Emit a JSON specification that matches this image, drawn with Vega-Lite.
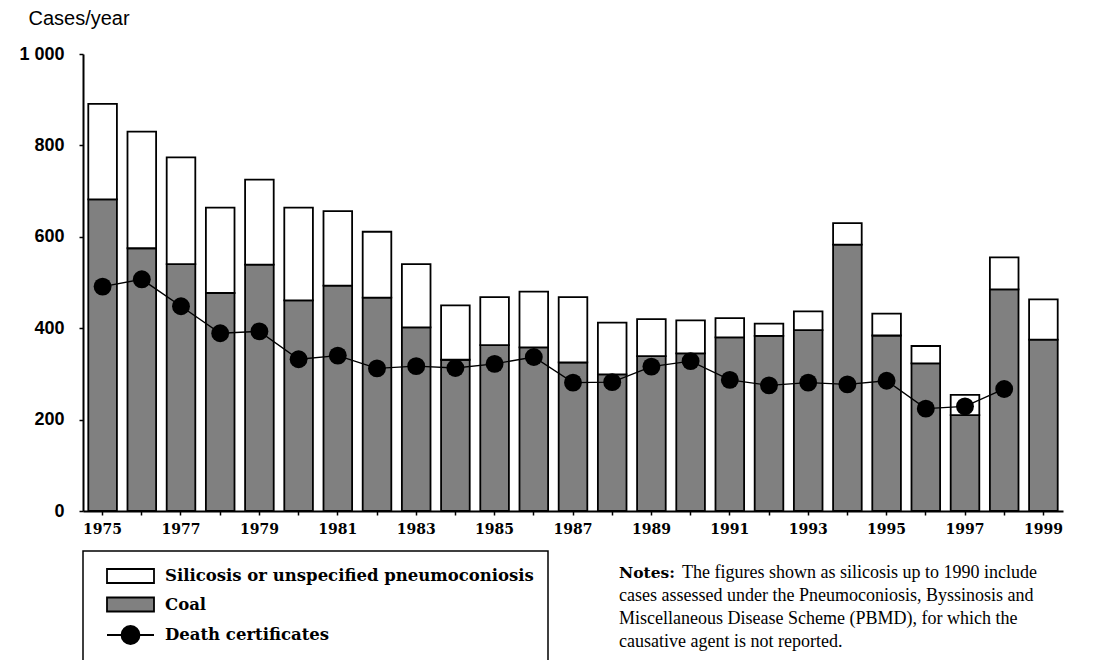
{
  "$schema": "https://vega.github.io/schema/vega-lite/v6.json",
  "autosize": {"type": "none"},
  "padding": {"left": 83, "top": 54, "right": 41, "bottom": 149},
  "width": 980,
  "height": 457,
  "background": "white",
  "config": {
    "view": {"stroke": null},
    "legend": {"strokeWidth": 1.5},
    "title": {"subtitleFont": "Liberation Serif"}
  },
  "datasets": {
    "cases": [
      {"year": 1975, "series": "Coal", "cases": 682}, {"year": 1975, "series": "Silicosis or unspecified pneumoconiosis", "cases": 209},
      {"year": 1976, "series": "Coal", "cases": 575}, {"year": 1976, "series": "Silicosis or unspecified pneumoconiosis", "cases": 255},
      {"year": 1977, "series": "Coal", "cases": 540}, {"year": 1977, "series": "Silicosis or unspecified pneumoconiosis", "cases": 234},
      {"year": 1978, "series": "Coal", "cases": 477}, {"year": 1978, "series": "Silicosis or unspecified pneumoconiosis", "cases": 187},
      {"year": 1979, "series": "Coal", "cases": 539}, {"year": 1979, "series": "Silicosis or unspecified pneumoconiosis", "cases": 186},
      {"year": 1980, "series": "Coal", "cases": 461}, {"year": 1980, "series": "Silicosis or unspecified pneumoconiosis", "cases": 203},
      {"year": 1981, "series": "Coal", "cases": 493}, {"year": 1981, "series": "Silicosis or unspecified pneumoconiosis", "cases": 163},
      {"year": 1982, "series": "Coal", "cases": 467}, {"year": 1982, "series": "Silicosis or unspecified pneumoconiosis", "cases": 144},
      {"year": 1983, "series": "Coal", "cases": 402}, {"year": 1983, "series": "Silicosis or unspecified pneumoconiosis", "cases": 138},
      {"year": 1984, "series": "Coal", "cases": 331}, {"year": 1984, "series": "Silicosis or unspecified pneumoconiosis", "cases": 119},
      {"year": 1985, "series": "Coal", "cases": 363}, {"year": 1985, "series": "Silicosis or unspecified pneumoconiosis", "cases": 105},
      {"year": 1986, "series": "Coal", "cases": 358}, {"year": 1986, "series": "Silicosis or unspecified pneumoconiosis", "cases": 122},
      {"year": 1987, "series": "Coal", "cases": 325}, {"year": 1987, "series": "Silicosis or unspecified pneumoconiosis", "cases": 143},
      {"year": 1988, "series": "Coal", "cases": 299}, {"year": 1988, "series": "Silicosis or unspecified pneumoconiosis", "cases": 113},
      {"year": 1989, "series": "Coal", "cases": 339}, {"year": 1989, "series": "Silicosis or unspecified pneumoconiosis", "cases": 81},
      {"year": 1990, "series": "Coal", "cases": 345}, {"year": 1990, "series": "Silicosis or unspecified pneumoconiosis", "cases": 72},
      {"year": 1991, "series": "Coal", "cases": 380}, {"year": 1991, "series": "Silicosis or unspecified pneumoconiosis", "cases": 42},
      {"year": 1992, "series": "Coal", "cases": 383}, {"year": 1992, "series": "Silicosis or unspecified pneumoconiosis", "cases": 27},
      {"year": 1993, "series": "Coal", "cases": 396}, {"year": 1993, "series": "Silicosis or unspecified pneumoconiosis", "cases": 41},
      {"year": 1994, "series": "Coal", "cases": 583}, {"year": 1994, "series": "Silicosis or unspecified pneumoconiosis", "cases": 47},
      {"year": 1995, "series": "Coal", "cases": 384}, {"year": 1995, "series": "Silicosis or unspecified pneumoconiosis", "cases": 48},
      {"year": 1996, "series": "Coal", "cases": 323}, {"year": 1996, "series": "Silicosis or unspecified pneumoconiosis", "cases": 38},
      {"year": 1997, "series": "Coal", "cases": 210}, {"year": 1997, "series": "Silicosis or unspecified pneumoconiosis", "cases": 44},
      {"year": 1998, "series": "Coal", "cases": 485}, {"year": 1998, "series": "Silicosis or unspecified pneumoconiosis", "cases": 70},
      {"year": 1999, "series": "Coal", "cases": 375}, {"year": 1999, "series": "Silicosis or unspecified pneumoconiosis", "cases": 88}
    ],
    "deaths": [
      {"year": 1975, "deaths": 491}, {"year": 1976, "deaths": 507}, {"year": 1977, "deaths": 448},
      {"year": 1978, "deaths": 389}, {"year": 1979, "deaths": 393}, {"year": 1980, "deaths": 332},
      {"year": 1981, "deaths": 340}, {"year": 1982, "deaths": 312}, {"year": 1983, "deaths": 317},
      {"year": 1984, "deaths": 313}, {"year": 1985, "deaths": 322}, {"year": 1986, "deaths": 337},
      {"year": 1987, "deaths": 281}, {"year": 1988, "deaths": 282}, {"year": 1989, "deaths": 316},
      {"year": 1990, "deaths": 328}, {"year": 1991, "deaths": 287}, {"year": 1992, "deaths": 275},
      {"year": 1993, "deaths": 281}, {"year": 1994, "deaths": 277}, {"year": 1995, "deaths": 285},
      {"year": 1996, "deaths": 224}, {"year": 1997, "deaths": 229}, {"year": 1998, "deaths": 267}
    ]
  },
  "title": {
    "text": "Notes:",
    "subtitle": [
      "\u200b\u00a0\u00a0\u00a0\u00a0\u00a0\u00a0\u00a0\u00a0\u00a0\u00a0\u00a0\u00a0\u00a0\u00a0The figures shown as silicosis up to 1990 include",
      "cases assessed under the Pneumoconiosis, Byssinosis and",
      "Miscellaneous Disease Scheme (PBMD), for which the",
      "causative agent is not reported."
    ],
    "orient": "bottom",
    "anchor": "start",
    "frame": "group",
    "dx": 536,
    "dy": -107,
    "offset": 10,
    "font": "DejaVu Serif",
    "fontSize": 15.5,
    "fontWeight": "bold",
    "color": "black",
    "subtitleFont": "Liberation Serif",
    "subtitleFontSize": 18,
    "subtitleFontWeight": "normal",
    "subtitleColor": "black",
    "subtitleLineHeight": 23,
    "subtitlePadding": -17.5
  },
  "layer": [
    {
      "data": {"name": "cases"},
      "mark": {"type": "bar", "stroke": "black", "strokeWidth": 1.8},
      "encoding": {
        "x": {
          "field": "year", "type": "ordinal",
          "scale": {"paddingInner": 0.27},
          "axis": {
            "title": null, "labelAngle": 0,
            "labelExpr": "datum.value % 2 == 1 ? datum.label : ''",
            "domainColor": "black", "domainWidth": 2,
            "tickColor": "black", "tickSize": 4, "tickWidth": 1.5,
            "labelFont": "DejaVu Serif", "labelFontWeight": "bold", "labelFontSize": 14,
            "labelColor": "black", "labelPadding": 7
          }
        },
        "y": {
          "field": "cases", "type": "quantitative", "stack": "zero",
          "title": "Cases/year",
          "scale": {"domain": [0, 1000], "nice": false},
          "axis": {
            "values": [0, 200, 400, 600, 800, 1000],
            "format": ",d",
            "labelExpr": "replace(datum.label, ',', ' ')",
            "grid": false,
            "domainColor": "black", "domainWidth": 2,
            "tickColor": "black", "tickSize": 4, "tickWidth": 1.5,
            "labelFont": "Liberation Sans", "labelFontWeight": "bold", "labelFontSize": 18,
            "labelColor": "black", "labelPadding": 15,
            "titleAngle": 0, "titleAlign": "left", "titleBaseline": "alphabetic",
            "titleX": -55, "titleY": -30,
            "titleFont": "Liberation Sans", "titleFontSize": 20, "titleFontWeight": "normal",
            "titleColor": "black"
          }
        },
        "order": {"field": "series", "type": "nominal", "sort": "ascending"},
        "fill": {
          "field": "series", "type": "nominal",
          "scale": {
            "domain": ["Silicosis or unspecified pneumoconiosis", "Coal", "Death certificates"],
            "range": ["white", "#808080", "black"]
          },
          "legend": {
            "title": null, "orient": "none", "legendX": 0, "legendY": 497,
            "direction": "vertical", "padding": 14,
            "strokeColor": "black", "fillColor": "white",
            "rowPadding": 6.5,
            "labelFont": "DejaVu Serif", "labelFontWeight": "bold", "labelFontSize": 16.5,
            "labelColor": "black", "labelLimit": 900, "labelOffset": 23.5,
            "symbolSize": 400, "symbolStrokeColor": "black", "symbolStrokeWidth": 1.8,
            "symbolOffset": 22.5,
            "encode": {
              "symbols": {
                "update": {
                  "shape": {"signal": "datum.value === 'Death certificates' ? 'M-2.35,0H-0.9M0.9,0H2.35M-0.9,0A0.9,0.9,0,1,0,0.9,0A0.9,0.9,0,1,0,-0.9,0Z' : 'M-2.35,-0.7H2.35V0.7H-2.35Z'"}
                }
              }
            }
          }
        }
      }
    },
    {
      "data": {"name": "deaths"},
      "mark": {"type": "line", "color": "black", "strokeWidth": 1.4},
      "encoding": {
        "x": {"field": "year", "type": "ordinal"},
        "y": {"field": "deaths", "type": "quantitative", "title": "Cases/year"}
      }
    },
    {
      "data": {"name": "deaths"},
      "mark": {"type": "point", "filled": true, "size": 320, "opacity": 1, "shape": "circle"},
      "encoding": {
        "x": {"field": "year", "type": "ordinal"},
        "y": {"field": "deaths", "type": "quantitative", "title": "Cases/year"},
        "fill": {"datum": "Death certificates", "type": "nominal"}
      }
    }
  ]
}
